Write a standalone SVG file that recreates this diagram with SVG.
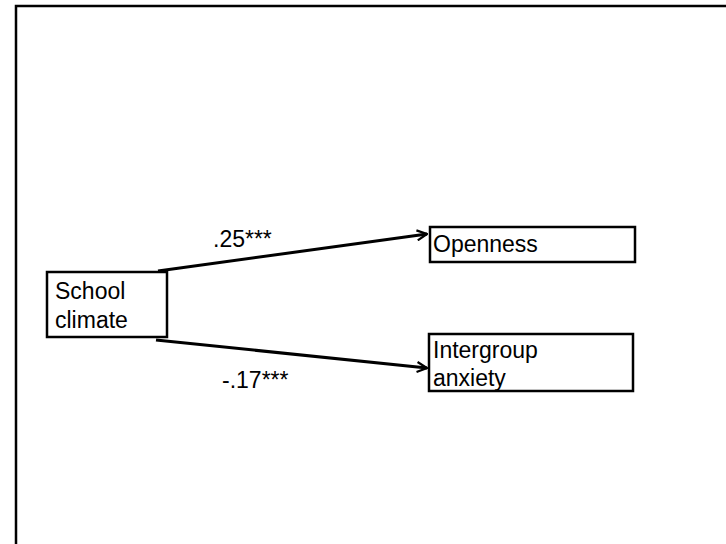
<svg xmlns="http://www.w3.org/2000/svg" width="726" height="544" viewBox="0 0 726 544">
<defs>
<style>
.box{fill:#fff;stroke:#000;stroke-width:2.5}
.t{font-family:"Liberation Sans",Arial,sans-serif;font-size:23px;fill:#000}
.c{fill:none;stroke:#000;stroke-width:3}
</style>
<marker id="ah" viewBox="0 0 12 12" refX="11" refY="6" markerWidth="12" markerHeight="12" markerUnits="userSpaceOnUse" orient="auto">
<path d="M1,1 L11,6 L1,11" fill="none" stroke="#000" stroke-width="2.2"/>
</marker>
</defs>
<rect width="726" height="544" fill="#fff"/>
<rect x="16" y="6" width="730" height="560" fill="none" stroke="#000" stroke-width="2.5"/>
<g id="connectors">
<line class="c" x1="158" y1="271" x2="427" y2="234" marker-end="url(#ah)"/>
<line class="c" x1="156" y1="340" x2="427" y2="368" marker-end="url(#ah)"/>
<text class="t" x="213" y="247">.25***</text>
<text class="t" x="222" y="388">-.17***</text>
</g>
<g id="school">
<rect class="box" x="47" y="272" width="120" height="65"/>
<text class="t" x="55" y="299">School</text>
<text class="t" x="55" y="328">climate</text>
</g>
<g id="openness">
<rect class="box" x="430" y="227" width="205" height="35"/>
<text class="t" x="433" y="252">Openness</text>
</g>
<g id="anxiety">
<rect class="box" x="429" y="334" width="204" height="57"/>
<text class="t" x="433" y="358">Intergroup</text>
<text class="t" x="433" y="386">anxiety</text>
</g>
</svg>
